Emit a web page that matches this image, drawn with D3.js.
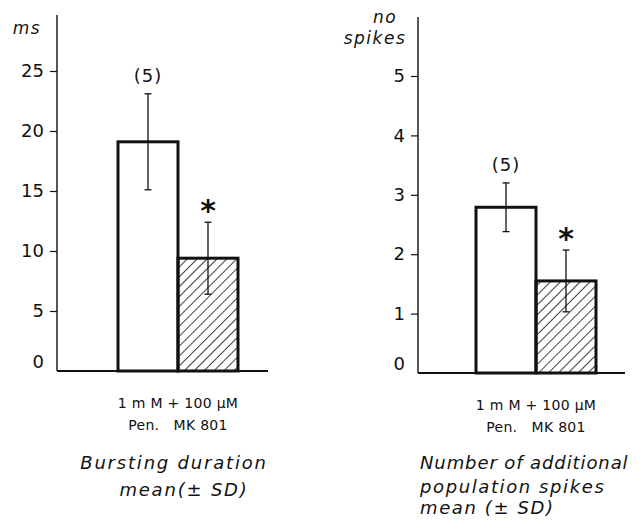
<!DOCTYPE html>
<html>
<head>
<meta charset="utf-8">
<script src="https://cdn.jsdelivr.net/npm/d3@7"></script>
<style>
  body { margin: 0; background: #fff; }
  text { font-family: "DejaVu Sans", sans-serif; fill: #111; white-space: pre; }
</style>
</head>
<body>
<script>
// two panels, same groups
var groups = ["1mM Pen.", "100µM MK801"];

// bursting duration (ms)
var burstMean = [19.1, 9.4];
var burstSD = [4.0, 3.0];
var burstTicks = [0, 5, 10, 15, 20, 25];

// additional population spikes (no)
var spikeMean = [2.79, 1.55];
var spikeSD = [0.41, 0.52];
var spikeTicks = [0, 1, 2, 3, 4, 5];

var nLabel = "(5)";

var svg = d3.select("body").append("svg")
    .attr("width", 640).attr("height", 525);

// hatch for the MK801 bar
var defs = svg.append("defs");
defs.append("pattern")
    .attr("id", "hatch")
    .attr("patternUnits", "userSpaceOnUse")
    .attr("width", 7).attr("height", 7)
    .attr("patternTransform", "rotate(45)")
    .append("line")
    .attr("x1", 0).attr("y1", 0).attr("x2", 0).attr("y2", 7)
    .attr("stroke", "#111").attr("stroke-width", 1.6);

function panel(o) {
    var y = d3.scaleLinear().domain([0, o.ticks[o.ticks.length - 1]]).range([o.y0, o.y1]);
    var x = d3.scaleBand().domain(groups).range([o.bx0, o.bx1]).padding(0);
    var g = svg.append("g");

    // y axis
    var ax = g.append("g")
        .attr("transform", "translate(" + o.ax + ",0)")
        .call(d3.axisLeft(y).tickValues(o.ticks).tickFormat(d3.format("d")).tickSize(7).tickPadding(6));
    ax.select(".domain").remove();
    ax.selectAll("line").attr("stroke", "#111").attr("stroke-width", 1.2);
    ax.selectAll("text").style("font-size", "18px").attr("fill", "#111");
    ax.selectAll(".tick").filter(function(d) { return d === 0; })
        .each(function() {
            d3.select(this).select("line").remove();
            d3.select(this).select("text").attr("dy", "-0.2em");
        });
    g.append("line")
        .attr("x1", o.ax).attr("x2", o.ax)
        .attr("y1", o.top).attr("y2", o.y0)
        .attr("stroke", "#111").attr("stroke-width", 1.4);

    // bars
    g.selectAll("rect.bar").data(o.mean).enter().append("rect")
        .attr("class", "bar")
        .attr("x", function(d, i) { return x(groups[i]); })
        .attr("y", function(d) { return y(d); })
        .attr("width", x.bandwidth())
        .attr("height", function(d) { return y(0) - y(d); })
        .attr("fill", function(d, i) { return i === 1 ? "url(#hatch)" : "#fff"; })
        .attr("stroke", "#111").attr("stroke-width", 3);

    // baseline
    g.append("line")
        .attr("x1", o.ax).attr("x2", o.bx2)
        .attr("y1", o.y0).attr("y2", o.y0)
        .attr("stroke", "#111").attr("stroke-width", 2);

    // error bars
    var cx = function(i) { return x(groups[i]) + x.bandwidth() / 2; };
    o.mean.forEach(function(m, i) {
        var lo = y(m - o.sd[i]), hi = y(m + o.sd[i]);
        g.append("line").attr("x1", cx(i)).attr("x2", cx(i)).attr("y1", lo).attr("y2", hi)
            .attr("stroke", "#111").attr("stroke-width", 1.3);
        [lo, hi].forEach(function(v) {
            g.append("line").attr("x1", cx(i) - 3.5).attr("x2", cx(i) + 3.5).attr("y1", v).attr("y2", v)
                .attr("stroke", "#111").attr("stroke-width", 1.3);
        });
    });

    // n and significance
    g.append("text").attr("x", cx(0)).attr("y", y(o.mean[0] + o.sd[0]) - 12)
        .attr("text-anchor", "middle").style("font-size", "18px").style("letter-spacing", "1px").text(nLabel);
    g.append("text").attr("x", cx(1)).attr("y", y(o.mean[1] + o.sd[1]) - 1)
        .attr("text-anchor", "middle").style("font-size", "30px").style("font-weight", "bold").text("*");

    // unit label
    o.unit.forEach(function(u) {
        g.append("text").attr("x", u[0]).attr("y", u[1])
            .attr("text-anchor", "middle").style("font-size", "17px").style("font-style", "italic")
            .style("letter-spacing", "1.5px").text(u[2]);
    });

    // group labels
    var mid = (o.bx0 + o.bx1) / 2;
    g.append("text").attr("x", mid).attr("y", o.y0 + 37).attr("text-anchor", "middle")
        .style("font-size", "14px").style("letter-spacing", "0.3px").text("1 m M + 100 µM");
    g.append("text").attr("x", mid).attr("y", o.y0 + 59).attr("text-anchor", "middle")
        .style("font-size", "14px").style("letter-spacing", "0.3px").text("Pen.   MK 801");

    // caption
    o.caption.forEach(function(c) {
        g.append("text").attr("x", c[0]).attr("y", c[1]).attr("text-anchor", c[3])
            .style("font-size", "18px").style("font-style", "italic")
            .style("letter-spacing", c[4] + "px").text(c[2]);
    });
}

panel({
    mean: burstMean, sd: burstSD, ticks: burstTicks,
    ax: 57, top: 15, y0: 371, y1: 71, bx0: 118, bx1: 238, bx2: 268,
    unit: [[27, 34, "ms"]],
    caption: [[174, 469, "Bursting duration", "middle", 1.8], [184, 496, "mean(± SD)", "middle", 1.8]]
});

panel({
    mean: spikeMean, sd: spikeSD, ticks: spikeTicks,
    ax: 418, top: 17, y0: 373, y1: 76, bx0: 476, bx1: 596, bx2: 625,
    unit: [[385, 23, "no"], [375, 44, "spikes"]],
    caption: [[420, 469, "Number of additional", "start", 0.9], [420, 493, "population spikes", "start", 1.6],
              [420, 514, "mean (± SD)", "start", 1.6]]
});
</script>
</body>
</html>
